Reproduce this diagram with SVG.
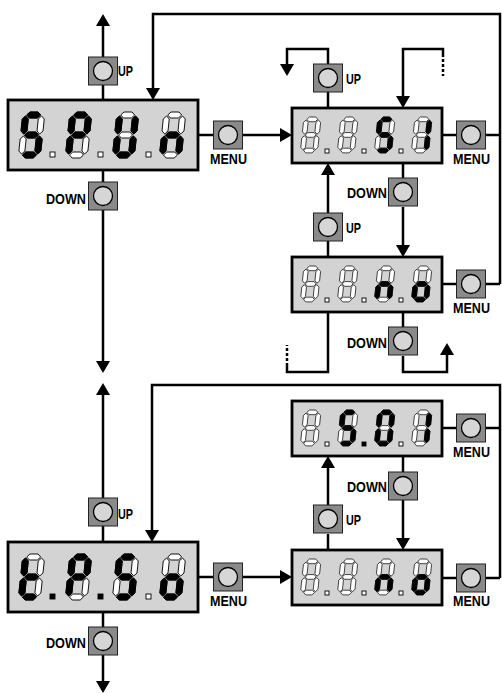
<svg xmlns="http://www.w3.org/2000/svg" xmlns:xlink="http://www.w3.org/1999/xlink" width="502" height="693" viewBox="0 0 502 693">
<style>
.disp{fill:#d3d3d3;stroke:#000;stroke-width:2.8}
.off{fill:#fff;stroke:#000;stroke-width:0.9}
.on{fill:#000;stroke:#000;stroke-width:0.9}
.btn rect{fill:#8a8a8a;stroke:#222;stroke-width:1}
.btn circle{fill:#d6d6d6;stroke:#000;stroke-width:1.3}
.lbl{font-family:"Liberation Sans",Arial,sans-serif;font-weight:bold;font-size:14px;fill:#000}
.ln{fill:none;stroke:#000;stroke-width:2.5}
.dash{fill:none;stroke:#000;stroke-width:2.5;stroke-dasharray:3 2}
</style>
<defs>
<marker id="ah" markerUnits="userSpaceOnUse" markerWidth="14" markerHeight="14" refX="9" refY="7" orient="auto" viewBox="0 0 12 14">
<path d="M0,0 L12,7 L0,14 z" fill="#000"/>
</marker>
<polygon id="sa" points="4,3 7,0 15,0 18,3 15,6 7,6"/>
<polygon id="sg" points="4,23 7,20 15,20 18,23 15,26 7,26"/>
<polygon id="sd" points="4,43 7,40 15,40 18,43 15,46 7,46"/>
<polygon id="sf" points="3,4 6,7 6,19 3,22 0,19 0,7"/>
<polygon id="sb" points="19,4 22,7 22,19 19,22 16,19 16,7"/>
<polygon id="se" points="3,24 6,27 6,39 3,42 0,39 0,27"/>
<polygon id="sc" points="19,24 22,27 22,39 19,42 16,39 16,27"/>
<g id="D"><use href="#sa"/><use href="#sb"/><use href="#sc"/><use href="#sd"/><use href="#se"/><use href="#sf"/><use href="#sg"/></g>
<g id="btn" class="btn"><rect x="-14.5" y="-14" width="29" height="28"/><circle cx="0" cy="0" r="9.5"/></g>
</defs>

<g id="connectors">
<path class="ln" d="M103,57 V17" marker-end="url(#ah)"/>
<path class="ln" d="M103,85 V100"/>
<path class="ln" d="M103,170 V182"/>
<path class="ln" d="M103,210 V370" marker-end="url(#ah)"/>
<path class="ln" d="M198,135 H213"/>
<path class="ln" d="M242,135 H289" marker-end="url(#ah)"/>
<path class="ln" d="M500,284 V14 H153 V97" marker-end="url(#ah)"/>
<path class="ln" d="M486,135 H500"/>
<path class="ln" d="M486,284 H500"/>
<path class="ln" d="M442,135 H457"/>
<path class="ln" d="M328,108 V92"/>
<path class="ln" d="M328,64 V49 H287 V73" marker-end="url(#ah)"/>
<path class="ln" d="M443,54 V49 H403 V105" marker-end="url(#ah)"/>
<path class="dash" d="M443,54 V76"/>
<path class="ln" d="M403,163 V178"/>
<path class="ln" d="M403,207 V254" marker-end="url(#ah)"/>
<path class="ln" d="M328,213 V166" marker-end="url(#ah)"/>
<path class="ln" d="M328,241 V257"/>
<path class="ln" d="M442,284 H457"/>
<path class="ln" d="M403,312 V327"/>
<path class="ln" d="M403,356 V372 H447 V346" marker-end="url(#ah)"/>
<path class="ln" d="M328,312 V372 H287 V366"/>
<path class="dash" d="M287,366 V345"/>
<path class="ln" d="M103,498 V386" marker-end="url(#ah)"/>
<path class="ln" d="M103,526 V542"/>
<path class="ln" d="M103,612 V627"/>
<path class="ln" d="M103,655 V690" marker-end="url(#ah)"/>
<path class="ln" d="M198,577 H213"/>
<path class="ln" d="M242,577 H289" marker-end="url(#ah)"/>
<path class="ln" d="M500,578 V385 H152 V539" marker-end="url(#ah)"/>
<path class="ln" d="M486,428 H500"/>
<path class="ln" d="M486,578 H500"/>
<path class="ln" d="M442,428 H457"/>
<path class="ln" d="M442,578 H457"/>
<path class="ln" d="M403,456 V472"/>
<path class="ln" d="M403,500 V547" marker-end="url(#ah)"/>
<path class="ln" d="M328,505 V459" marker-end="url(#ah)"/>
<path class="ln" d="M328,534 V550"/>
</g>

<g id="disp-spun">
<rect class="disp" x="8" y="100" width="190" height="70"/>
<g transform="translate(23,112) skewX(-6)"><use href="#D" class="off"/><use href="#sa" class="on"/><use href="#sf" class="on"/><use href="#sg" class="on"/><use href="#sc" class="on"/><use href="#sd" class="on"/></g>
<g transform="translate(70,112) skewX(-6)"><use href="#D" class="off"/><use href="#sa" class="on"/><use href="#sb" class="on"/><use href="#sf" class="on"/><use href="#sg" class="on"/><use href="#se" class="on"/></g>
<g transform="translate(117,112) skewX(-6)"><use href="#D" class="off"/><use href="#sb" class="on"/><use href="#sc" class="on"/><use href="#sd" class="on"/><use href="#se" class="on"/><use href="#sf" class="on"/></g>
<g transform="translate(164,112) skewX(-6)"><use href="#D" class="off"/><use href="#sc" class="on"/><use href="#se" class="on"/><use href="#sg" class="on"/></g>
<rect class="off" x="50" y="152" width="5" height="5"/><rect class="off" x="98" y="152" width="5" height="5"/><rect class="off" x="146" y="152" width="5" height="5"/>
</g>

<g id="disp-tpso">
<rect class="disp" x="8" y="542" width="190" height="70"/>
<g transform="translate(23,554) skewX(-6)"><use href="#D" class="off"/><use href="#sf" class="on"/><use href="#sg" class="on"/><use href="#se" class="on"/><use href="#sd" class="on"/></g>
<g transform="translate(70,554) skewX(-6)"><use href="#D" class="off"/><use href="#sa" class="on"/><use href="#sb" class="on"/><use href="#sf" class="on"/><use href="#sg" class="on"/><use href="#se" class="on"/></g>
<g transform="translate(117,554) skewX(-6)"><use href="#D" class="off"/><use href="#sa" class="on"/><use href="#sf" class="on"/><use href="#sg" class="on"/><use href="#sc" class="on"/><use href="#sd" class="on"/></g>
<g transform="translate(164,554) skewX(-6)"><use href="#D" class="off"/><use href="#sg" class="on"/><use href="#sc" class="on"/><use href="#sd" class="on"/><use href="#se" class="on"/></g>
<rect class="on" x="50" y="594" width="5" height="5"/><rect class="on" x="98" y="594" width="5" height="5"/><rect class="off" x="146" y="594" width="5" height="5"/>
</g>

<g id="disp-s1">
<rect class="disp" x="292" y="108" width="150" height="55"/>
<g transform="translate(304,117) skewX(-6) scale(0.78)"><use href="#D" class="off"/></g>
<g transform="translate(341,117) skewX(-6) scale(0.78)"><use href="#D" class="off"/></g>
<g transform="translate(378,117) skewX(-6) scale(0.78)"><use href="#D" class="off"/><use href="#sa" class="on"/><use href="#sf" class="on"/><use href="#sg" class="on"/><use href="#sc" class="on"/><use href="#sd" class="on"/></g>
<g transform="translate(415,117) skewX(-6) scale(0.78)"><use href="#D" class="off"/><use href="#sb" class="on"/><use href="#sc" class="on"/></g>
<rect class="off" x="325" y="149" width="4" height="4"/><rect class="off" x="362" y="149" width="4" height="4"/><rect class="off" x="399" y="149" width="4" height="4"/>
</g>

<g id="disp-no-1">
<rect class="disp" x="292" y="257" width="150" height="55"/>
<g transform="translate(304,266) skewX(-6) scale(0.78)"><use href="#D" class="off"/></g>
<g transform="translate(341,266) skewX(-6) scale(0.78)"><use href="#D" class="off"/></g>
<g transform="translate(378,266) skewX(-6) scale(0.78)"><use href="#D" class="off"/><use href="#sc" class="on"/><use href="#se" class="on"/><use href="#sg" class="on"/></g>
<g transform="translate(415,266) skewX(-6) scale(0.78)"><use href="#D" class="off"/><use href="#sg" class="on"/><use href="#sc" class="on"/><use href="#sd" class="on"/><use href="#se" class="on"/></g>
<rect class="off" x="325" y="298" width="4" height="4"/><rect class="off" x="362" y="298" width="4" height="4"/><rect class="off" x="399" y="298" width="4" height="4"/>
</g>

<g id="disp-s01">
<rect class="disp" x="292" y="401" width="150" height="55"/>
<g transform="translate(304,410) skewX(-6) scale(0.78)"><use href="#D" class="off"/></g>
<g transform="translate(341,410) skewX(-6) scale(0.78)"><use href="#D" class="off"/><use href="#sa" class="on"/><use href="#sf" class="on"/><use href="#sg" class="on"/><use href="#sc" class="on"/><use href="#sd" class="on"/></g>
<g transform="translate(378,410) skewX(-6) scale(0.78)"><use href="#D" class="off"/><use href="#sa" class="on"/><use href="#sb" class="on"/><use href="#sc" class="on"/><use href="#sd" class="on"/><use href="#se" class="on"/><use href="#sf" class="on"/></g>
<g transform="translate(415,410) skewX(-6) scale(0.78)"><use href="#D" class="off"/><use href="#sb" class="on"/><use href="#sc" class="on"/></g>
<rect class="off" x="325" y="442" width="4" height="4"/><rect class="on" x="362" y="442" width="4" height="4"/><rect class="off" x="399" y="442" width="4" height="4"/>
</g>

<g id="disp-no-2">
<rect class="disp" x="292" y="550" width="150" height="55"/>
<g transform="translate(304,559) skewX(-6) scale(0.78)"><use href="#D" class="off"/></g>
<g transform="translate(341,559) skewX(-6) scale(0.78)"><use href="#D" class="off"/></g>
<g transform="translate(378,559) skewX(-6) scale(0.78)"><use href="#D" class="off"/><use href="#sc" class="on"/><use href="#se" class="on"/><use href="#sg" class="on"/></g>
<g transform="translate(415,559) skewX(-6) scale(0.78)"><use href="#D" class="off"/><use href="#sg" class="on"/><use href="#sc" class="on"/><use href="#sd" class="on"/><use href="#se" class="on"/></g>
<rect class="off" x="325" y="591" width="4" height="4"/><rect class="off" x="362" y="591" width="4" height="4"/><rect class="off" x="399" y="591" width="4" height="4"/>
</g>

<g id="btn-up-1"><use href="#btn" x="103" y="71"/><text class="lbl" x="118" y="76" textLength="15" lengthAdjust="spacingAndGlyphs">UP</text></g>
<g id="btn-down-1"><use href="#btn" x="103" y="196"/><text class="lbl" x="46" y="204" textLength="40" lengthAdjust="spacingAndGlyphs">DOWN</text></g>
<g id="btn-menu-1"><use href="#btn" x="228" y="135"/><text class="lbl" x="210" y="164" textLength="37" lengthAdjust="spacingAndGlyphs">MENU</text></g>
<g id="btn-up-2"><use href="#btn" x="328" y="78"/><text class="lbl" x="346" y="84" textLength="15" lengthAdjust="spacingAndGlyphs">UP</text></g>
<g id="btn-menu-2"><use href="#btn" x="471" y="135"/><text class="lbl" x="453" y="164" textLength="37" lengthAdjust="spacingAndGlyphs">MENU</text></g>
<g id="btn-down-2"><use href="#btn" x="403" y="192"/><text class="lbl" x="347" y="198" textLength="40" lengthAdjust="spacingAndGlyphs">DOWN</text></g>
<g id="btn-up-3"><use href="#btn" x="328" y="227"/><text class="lbl" x="346" y="233" textLength="15" lengthAdjust="spacingAndGlyphs">UP</text></g>
<g id="btn-menu-3"><use href="#btn" x="471" y="284"/><text class="lbl" x="453" y="313" textLength="37" lengthAdjust="spacingAndGlyphs">MENU</text></g>
<g id="btn-down-3"><use href="#btn" x="403" y="341"/><text class="lbl" x="347" y="348" textLength="40" lengthAdjust="spacingAndGlyphs">DOWN</text></g>
<g id="btn-up-4"><use href="#btn" x="103" y="512"/><text class="lbl" x="118" y="519" textLength="15" lengthAdjust="spacingAndGlyphs">UP</text></g>
<g id="btn-menu-4"><use href="#btn" x="228" y="577"/><text class="lbl" x="210" y="606" textLength="37" lengthAdjust="spacingAndGlyphs">MENU</text></g>
<g id="btn-down-4"><use href="#btn" x="103" y="641"/><text class="lbl" x="46" y="648" textLength="40" lengthAdjust="spacingAndGlyphs">DOWN</text></g>
<g id="btn-menu-5"><use href="#btn" x="471" y="428"/><text class="lbl" x="453" y="457" textLength="37" lengthAdjust="spacingAndGlyphs">MENU</text></g>
<g id="btn-down-5"><use href="#btn" x="403" y="486"/><text class="lbl" x="347" y="492" textLength="40" lengthAdjust="spacingAndGlyphs">DOWN</text></g>
<g id="btn-up-5"><use href="#btn" x="328" y="519"/><text class="lbl" x="346" y="525" textLength="15" lengthAdjust="spacingAndGlyphs">UP</text></g>
<g id="btn-menu-6"><use href="#btn" x="471" y="578"/><text class="lbl" x="453" y="606" textLength="37" lengthAdjust="spacingAndGlyphs">MENU</text></g>
</svg>
